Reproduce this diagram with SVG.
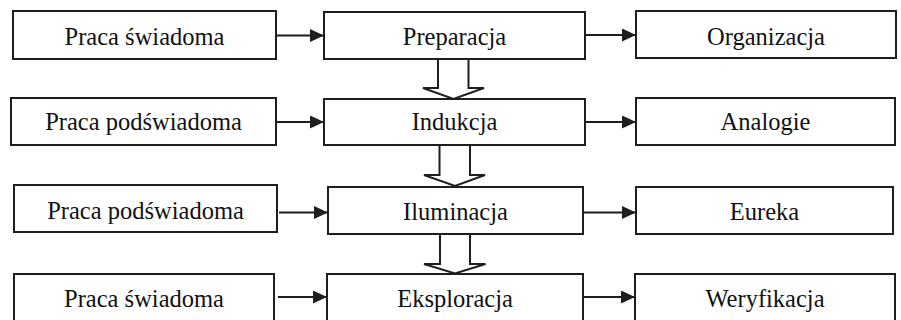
<svg xmlns="http://www.w3.org/2000/svg" width="901" height="320" viewBox="0 0 901 320">
<defs>
<style>
.box{fill:#fff;stroke:#1e1e1e;stroke-width:2}
.lbl{font-family:'Liberation Serif','Times New Roman',serif;font-size:24.5px;fill:#111;text-anchor:middle}
.conn{stroke:#1e1e1e;stroke-width:2;fill:none}
.blk{fill:#fff;stroke:#1e1e1e;stroke-width:2;stroke-linejoin:miter}
</style>
<marker id="ah" viewBox="0 0 14 13" refX="14" refY="6.5" markerWidth="14" markerHeight="13" markerUnits="userSpaceOnUse" orient="auto">
<path d="M0,0 L14,6.5 L0,13 z" fill="#1e1e1e"/>
</marker>
</defs>
<rect width="901" height="320" fill="#fff"/>

<g id="connectors">
<line class="conn" x1="276" y1="35.5" x2="324" y2="35.5" marker-end="url(#ah)"/>
<line class="conn" x1="585" y1="35" x2="636" y2="35" marker-end="url(#ah)"/>
<line class="conn" x1="276" y1="122" x2="324" y2="122" marker-end="url(#ah)"/>
<line class="conn" x1="585" y1="122" x2="636" y2="122" marker-end="url(#ah)"/>
<line class="conn" x1="279" y1="212.5" x2="328" y2="212.5" marker-end="url(#ah)"/>
<line class="conn" x1="583" y1="212.5" x2="636" y2="212.5" marker-end="url(#ah)"/>
<line class="conn" x1="278" y1="297" x2="327" y2="297" marker-end="url(#ah)"/>
<line class="conn" x1="583" y1="297" x2="635" y2="297" marker-end="url(#ah)"/>
<polyline class="blk" points="438,59 438,88 423,88 453.5,99 484,88 468.5,88 468.5,59"/>
<polyline class="blk" points="439.5,145 439.5,175 424,175 455,186 485,175 470,175 470,145"/>
<polyline class="blk" points="440,234 440,264 424,264 455,273.5 485.5,264 470,264 470,234"/>
</g>

<g id="n-praca-swiadoma-1"><rect class="box" x="13" y="11" width="263" height="48"/><text class="lbl" x="144.5" y="44.5">Praca świadoma</text></g>
<g id="n-preparacja"><rect class="box" x="324" y="12" width="261" height="47"/><text class="lbl" x="454.5" y="44.5">Preparacja</text></g>
<g id="n-organizacja"><rect class="box" x="636" y="11" width="260" height="47"/><text class="lbl" x="766" y="44.5">Organizacja</text></g>

<g id="n-praca-podswiadoma-1"><rect class="box" x="11" y="98" width="265" height="47"/><text class="lbl" x="143.5" y="129.5">Praca podświadoma</text></g>
<g id="n-indukcja"><rect class="box" x="324" y="99" width="261" height="46"/><text class="lbl" x="454.5" y="129.5">Indukcja</text></g>
<g id="n-analogie"><rect class="box" x="636" y="98" width="259" height="47"/><text class="lbl" x="765.5" y="129.5">Analogie</text></g>

<g id="n-praca-podswiadoma-2"><rect class="box" x="14" y="185" width="263" height="47"/><text class="lbl" x="145.5" y="219">Praca podświadoma</text></g>
<g id="n-iluminacja"><rect class="box" x="328" y="187" width="255" height="47"/><text class="lbl" x="455.5" y="219.5">Iluminacja</text></g>
<g id="n-eureka"><rect class="box" x="636" y="187" width="257" height="47"/><text class="lbl" x="764.5" y="219.5">Eureka</text></g>

<g id="n-praca-swiadoma-2"><rect class="box" x="14" y="274" width="260" height="60"/><text class="lbl" x="144" y="306.5">Praca świadoma</text></g>
<g id="n-eksploracja"><rect class="box" x="327" y="274" width="256" height="60"/><text class="lbl" x="455" y="306.5">Eksploracja</text></g>
<g id="n-weryfikacja"><rect class="box" x="635" y="274" width="260" height="60"/><text class="lbl" x="765" y="306.5">Weryfikacja</text></g>
</svg>
